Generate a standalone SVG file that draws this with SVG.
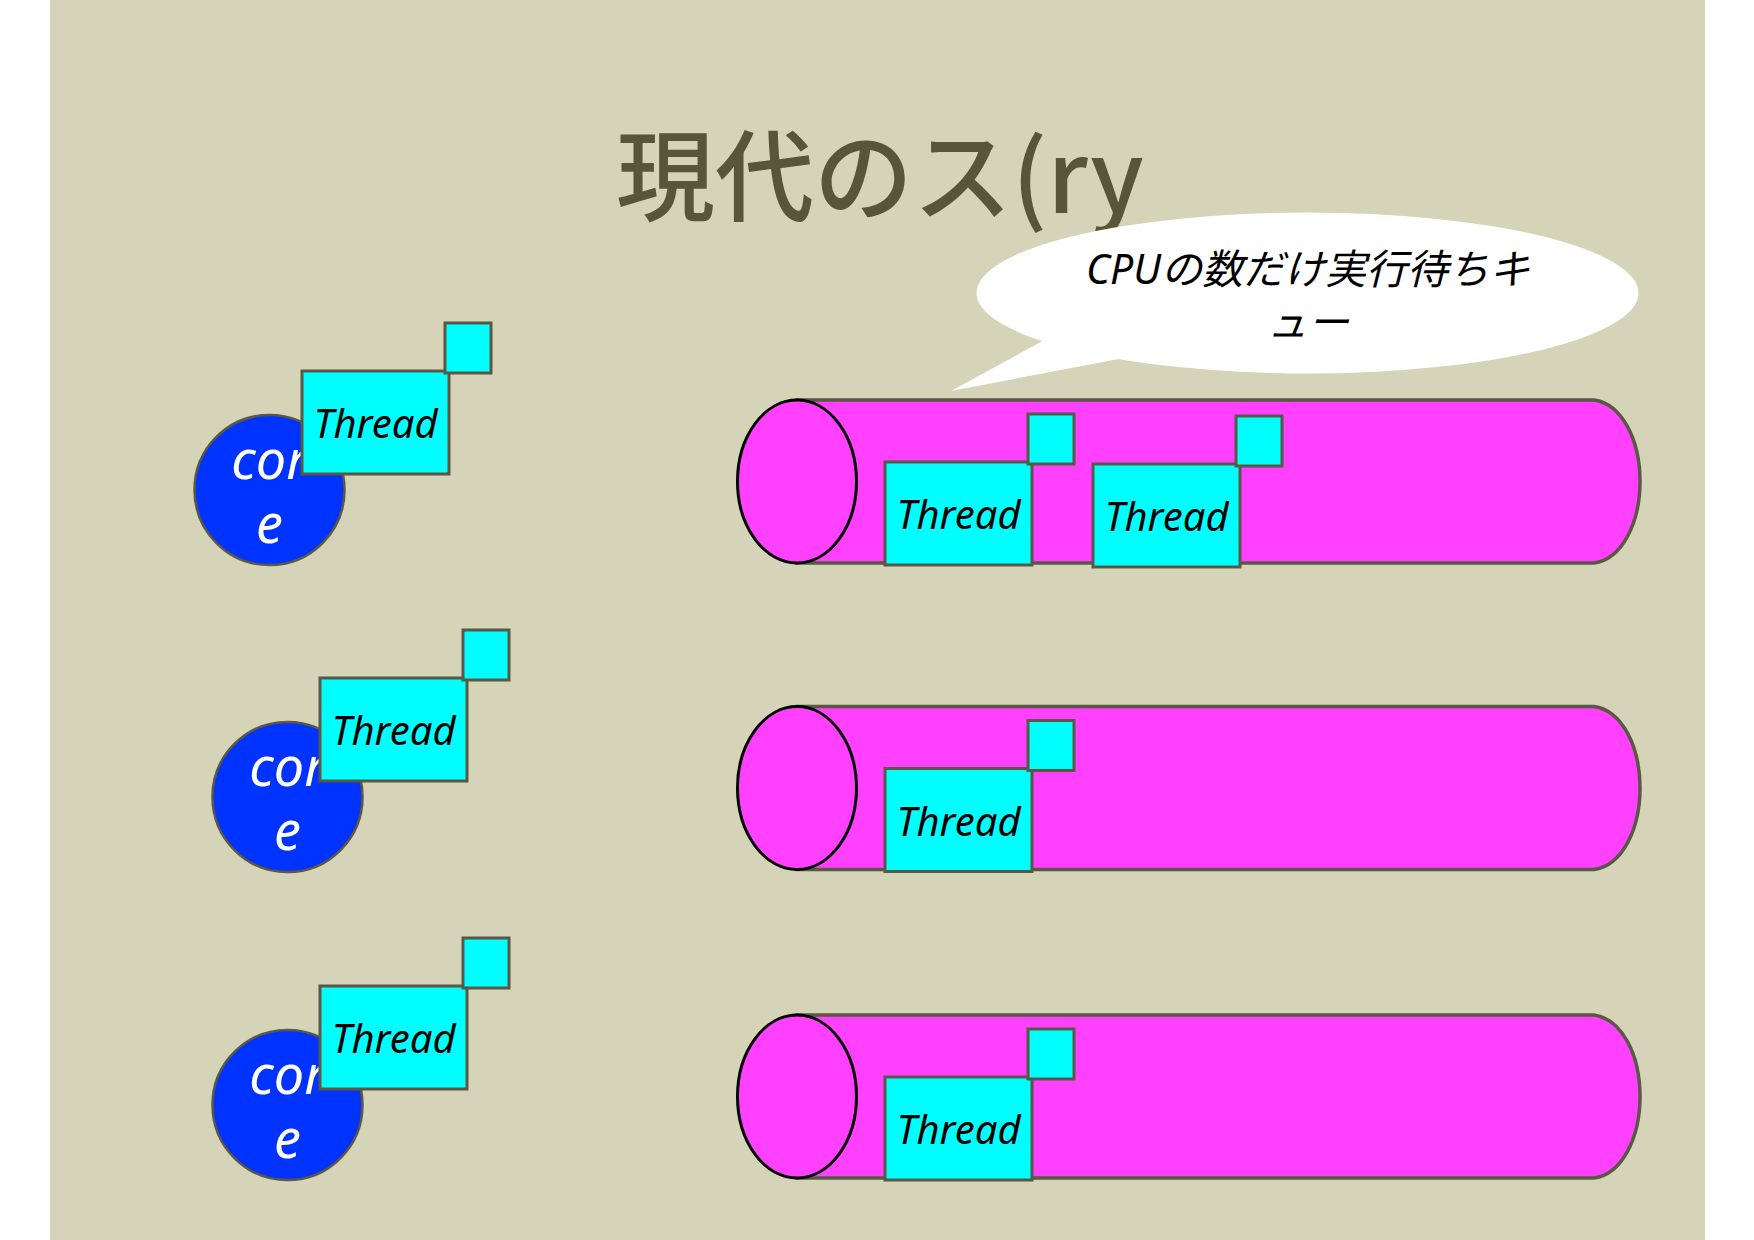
<svg xmlns="http://www.w3.org/2000/svg" width="1754" height="1240" viewBox="0 0 1754 1240">
<defs>
<style>
.bg{fill:#D5D3B8}
.title{font-family:"Noto Sans CJK JP","Noto Sans",sans-serif;font-size:99px;font-weight:500;fill:#58553A}
.bubble{fill:#FFFFFF}
.btext{font-family:"Noto Sans","Noto Sans CJK JP",sans-serif;font-style:italic;font-size:41px;fill:#000}
.core{fill:#0033FF;stroke:#5A5844;stroke-width:2.5}
.ctext{font-family:"Noto Sans",sans-serif;font-style:italic;font-size:54px;fill:#FFFFFF;text-anchor:middle}
.thr{fill:#00FFFF;stroke:#5A5844;stroke-width:3}
.ttext{font-family:"Noto Sans",sans-serif;font-style:italic;font-size:40px;fill:#000;text-anchor:middle}
.body{fill:#FF40FF;stroke:#5A5844;stroke-width:3.5}
.cap{fill:#FF40FF;stroke:#000;stroke-width:3}
</style>
<g id="threadTpl">
<rect class="thr" x="0" y="0" width="147" height="103"/>
<rect class="thr" x="143" y="-48" width="46" height="50"/>
<text class="ttext" x="73.5" y="67">Thread</text>
</g>
<g id="coreTpl">
<circle class="core" cx="269.5" cy="490" r="75"/>
<text class="ctext" x="269.5" y="479">cor</text>
<text class="ctext" x="269.5" y="543">e</text>
<use href="#threadTpl" x="302" y="371"/>
</g>
<g id="queueBody">
<path class="body" d="M797,400 H1594 C1622,404 1640,440 1640,481.5 C1640,523 1622,559 1594,563 H797 Z"/>
<ellipse class="cap" cx="797" cy="481.5" rx="59.5" ry="81.5"/>
</g>
</defs>
<rect x="0" y="0" width="1754" height="1240" fill="#FFFFFF"/>
<rect class="bg" x="50" y="0" width="1655" height="1240"/>
<g id="title">
<text class="title" x="880" y="213" text-anchor="middle">現代のス(ry</text>
</g>
<g id="bubble">
<ellipse class="bubble" cx="1307.5" cy="293" rx="331" ry="80.5"/>
<polygon class="bubble" points="951,391 1048,338 1140,355"/>
<text class="btext" x="1308" y="284" text-anchor="middle">CPUの数だけ実行待ちキ</text>
<text class="btext" x="1308" y="337" text-anchor="middle">ュー</text>
</g>
<g id="connectors"/>
<g id="core1"><use href="#coreTpl"/></g>
<g id="core2" transform="translate(18,307)"><use href="#coreTpl"/></g>
<g id="core3" transform="translate(18,615)"><use href="#coreTpl"/></g>
<g id="queue1">
<use href="#queueBody"/>
<use href="#threadTpl" x="885" y="462"/>
<use href="#threadTpl" x="1093" y="464"/>
</g>
<g id="queue2" transform="translate(0,306.5)">
<use href="#queueBody"/>
<use href="#threadTpl" x="885" y="462"/>
</g>
<g id="queue3" transform="translate(0,615)">
<use href="#queueBody"/>
<use href="#threadTpl" x="885" y="462"/>
</g>
</svg>
